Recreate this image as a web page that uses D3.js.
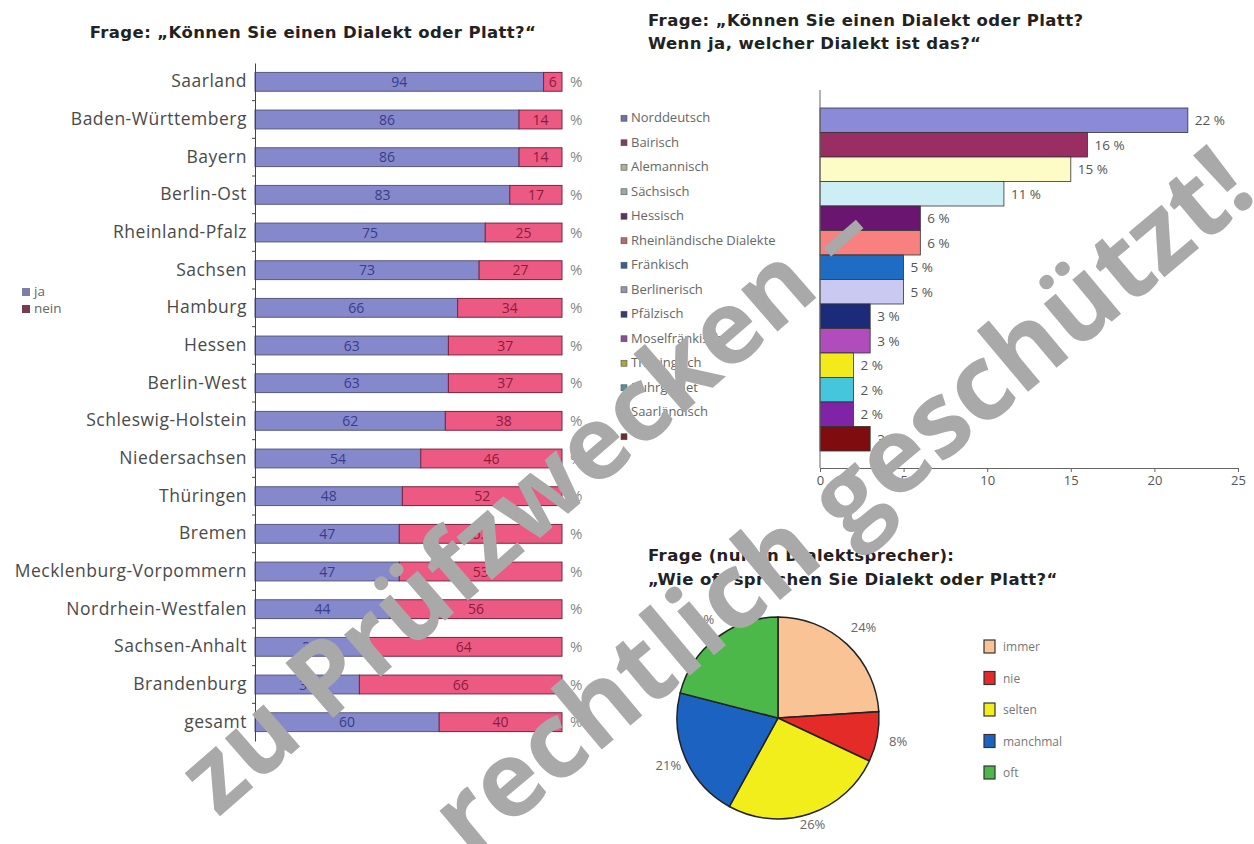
<!DOCTYPE html>
<html>
<head>
<meta charset="utf-8">
<script src="https://cdn.jsdelivr.net/npm/d3@7"></script>
<style>
  body { margin: 0; background: #fff; }
  svg { display: block; font-family: "Open Sans", "Noto Sans", sans-serif; }
  .title { font-family: "DejaVu Sans", sans-serif; font-weight: bold; font-size: 16.5px; letter-spacing: 0.4px; fill: #222; }
</style>
</head>
<body>
<svg id="chart" width="1254" height="844"></svg>
<script>
// Data
var states = ['Saarland', 'Baden-Württemberg', 'Bayern', 'Berlin-Ost', 'Rheinland-Pfalz', 'Sachsen',
  'Hamburg', 'Hessen', 'Berlin-West', 'Schleswig-Holstein', 'Niedersachsen', 'Thüringen', 'Bremen',
  'Mecklenburg-Vorpommern', 'Nordrhein-Westfalen', 'Sachsen-Anhalt', 'Brandenburg', 'gesamt'];
var jaValues   = [94, 86, 86, 83, 75, 73, 66, 63, 63, 62, 54, 48, 47, 47, 44, 36, 34, 60];
var neinValues = [6, 14, 14, 17, 25, 27, 34, 37, 37, 38, 46, 52, 53, 53, 56, 64, 66, 40];

var dialects = ['Norddeutsch', 'Bairisch', 'Alemannisch', 'Sächsisch', 'Hessisch', 'Rheinländische Dialekte',
  'Fränkisch', 'Berlinerisch', 'Pfälzisch', 'Moselfränkisch', 'Thüringisch', 'Ruhrgebiet', 'Saarländisch', ''];
var dialectValues = [22, 16, 15, 11, 6, 6, 5, 5, 3, 3, 2, 2, 2, 3];
var dialectTicks = [0, 5, 10, 15, 20, 25];

var frequency = ['immer', 'nie', 'selten', 'manchmal', 'oft'];
var frequencyValues = [24, 8, 26, 21, 21];

var svg = d3.select('#chart');

// ---------- left chart: ja / nein per Bundesland ----------
function drawStates(){
  var g = svg.append('g');

  g.append('text').attr('class', 'title')
      .attr('x', 313).attr('y', 38).attr('text-anchor', 'middle')
      .text('Frage: „Können Sie einen Dialekt oder Platt?“');

  var x = d3.scaleLinear().domain([0, 100]).range([255, 562]);
  var y = d3.scaleBand().domain(states).range([63, 741]).paddingInner(0.5).paddingOuter(0.25);

  var rows = g.selectAll('g.row')
      .data(states.map(function(s, i){ return {name: s, ja: jaValues[i], nein: neinValues[i]}; }))
      .enter().append('g').attr('class', 'row');

  rows.append('rect')
      .attr('x', x(0)).attr('y', function(d){ return y(d.name); })
      .attr('width', function(d){ return x(d.ja) - x(0); })
      .attr('height', y.bandwidth())
      .attr('fill', '#8688cc').attr('stroke', '#555a80').attr('stroke-width', 1);

  rows.append('rect')
      .attr('x', function(d){ return x(d.ja); }).attr('y', function(d){ return y(d.name); })
      .attr('width', function(d){ return x(d.ja + d.nein) - x(d.ja); })
      .attr('height', y.bandwidth())
      .attr('fill', '#ec5a84').attr('stroke', '#7a2440').attr('stroke-width', 1);

  rows.append('text')
      .attr('x', function(d){ return (x(0) + x(d.ja)) / 2; })
      .attr('y', function(d){ return y(d.name) + y.bandwidth() / 2 + 5; })
      .attr('text-anchor', 'middle').attr('font-size', 14).attr('fill', '#3a3c88')
      .text(function(d){ return d.ja; });

  rows.append('text')
      .attr('x', function(d){ return (x(d.ja) + x(100)) / 2; })
      .attr('y', function(d){ return y(d.name) + y.bandwidth() / 2 + 5; })
      .attr('text-anchor', 'middle').attr('font-size', 14).attr('fill', '#8a1c3c')
      .text(function(d){ return d.nein; });

  rows.append('text')
      .attr('x', x(100) + 8)
      .attr('y', function(d){ return y(d.name) + y.bandwidth() / 2 + 5; })
      .attr('font-size', 15).attr('fill', '#888')
      .text('%');

  var axis = d3.axisLeft(y).tickSize(0).tickPadding(8);
  var ax = g.append('g').attr('transform', 'translate(' + x(0) + ',0)').call(axis);
  ax.select('.domain').attr('stroke', '#444');
  ax.selectAll('text').attr('font-size', 17.5).attr('fill', '#4a4a4a')
      .attr('letter-spacing', 0.5)
      .attr('font-family', '"Open Sans", sans-serif');

  // small ticks between the rows
  g.selectAll('line.sep')
      .data(states.slice(0, states.length - 1))
      .enter().append('line')
      .attr('x1', x(0) - 3).attr('x2', x(0))
      .attr('y1', function(d){ return y(d) + y.step() * 0.75; })
      .attr('y2', function(d){ return y(d) + y.step() * 0.75; })
      .attr('stroke', '#444');

  var leg = g.append('g').attr('transform', 'translate(22,292)');
  [['ja', '#7d7fa8'], ['nein', '#7a3a52']].forEach(function(l, i){
    leg.append('rect').attr('x', 0).attr('y', i * 17 - 4).attr('width', 8).attr('height', 8)
        .attr('fill', l[1]);
    leg.append('text').attr('x', 12).attr('y', i * 17 + 4).attr('font-size', 13.5).attr('fill', '#666')
        .text(l[0]);
  });
}

// ---------- right chart: which dialect ----------
function drawDialects(){
  var g = svg.append('g');

  g.append('text').attr('class', 'title').attr('x', 648).attr('y', 26)
      .text('Frage: „Können Sie einen Dialekt oder Platt?');
  g.append('text').attr('class', 'title').attr('x', 648).attr('y', 49)
      .text('Wenn ja, welcher Dialekt ist das?“');

  var colors = ['#8a8ad8', '#9a2e62', '#fdfbc6', '#cdeef4', '#6a1670', '#f8807e', '#1f6cc4',
    '#c9c9f2', '#1c2a7a', '#b04cbc', '#f2ea1a', '#45c6dc', '#7f24a6', '#7f0d10'];

  var x = d3.scaleLinear().domain([0, 25]).range([820, 1238]);
  var y = d3.scaleBand().domain(d3.range(dialects.length)).range([108, 451]);

  g.selectAll('rect.bar')
      .data(dialectValues).enter().append('rect')
      .attr('x', x(0)).attr('y', function(d, i){ return y(i); })
      .attr('width', function(d){ return x(d) - x(0); })
      .attr('height', y.bandwidth())
      .attr('fill', function(d, i){ return colors[i]; })
      .attr('stroke', '#333').attr('stroke-width', 0.8);

  g.selectAll('text.val')
      .data(dialectValues).enter().append('text')
      .attr('x', function(d){ return x(d) + 7; })
      .attr('y', function(d, i){ return y(i) + y.bandwidth() / 2 + 5; })
      .attr('font-size', 13.5).attr('fill', '#555')
      .text(function(d){ return d + ' %'; });

  var xAxis = d3.axisBottom(x).tickValues(dialectTicks).tickSize(4).tickPadding(4);
  var ax = g.append('g').attr('transform', 'translate(0,468)').call(xAxis);
  ax.select('.domain').attr('stroke', '#666');
  ax.selectAll('line').attr('stroke', '#666');
  ax.selectAll('text').attr('font-size', 13).attr('fill', '#555')
      .attr('font-family', '"Open Sans", sans-serif');

  g.append('line').attr('x1', x(0)).attr('x2', x(0)).attr('y1', 90).attr('y2', 468)
      .attr('stroke', '#666');

  // legend
  var leg = g.selectAll('g.leg').data(dialects).enter().append('g')
      .attr('transform', function(d, i){ return 'translate(624,' + (y(i) + y.bandwidth() / 2 - 2) + ')'; });
  leg.append('rect').attr('x', -3).attr('y', -3).attr('width', 6).attr('height', 6)
      .attr('fill', function(d, i){ return d3.interpolateRgb(colors[i], '#555')(0.45); })
      .attr('stroke', '#555').attr('stroke-width', 0.6);
  leg.append('text').attr('x', 7).attr('y', 4).attr('font-size', 13).attr('fill', '#666')
      .text(function(d){ return d; });
}

// ---------- pie: how often ----------
function drawFrequency(){
  var g = svg.append('g');

  g.append('text').attr('class', 'title').attr('x', 648).attr('y', 561)
      .text('Frage (nur an Dialektsprecher):');
  g.append('text').attr('class', 'title').attr('x', 648).attr('y', 585)
      .text('„Wie oft sprechen Sie Dialekt oder Platt?“');

  var colors = ['#f9c396', '#e52b28', '#f2ee1c', '#1c62c0', '#4cb84a'];
  var r = 101;
  var pie = d3.pie().sort(null)(frequencyValues);
  var arc = d3.arc().innerRadius(0).outerRadius(r);

  // labels sit a little closer to the pie at the bottom
  function labelPos(d){
    var a = (d.startAngle + d.endAngle) / 2;
    var rr = r + 24 - 14 * Math.max(0, -Math.cos(a));
    return [Math.sin(a) * rr, -Math.cos(a) * rr];
  }

  var pg = g.append('g').attr('transform', 'translate(778,718)');
  pg.selectAll('path').data(pie).enter().append('path')
      .attr('d', arc)
      .attr('fill', function(d, i){ return colors[i]; })
      .attr('stroke', '#222').attr('stroke-width', 1.5);

  pg.selectAll('text').data(pie).enter().append('text')
      .attr('transform', function(d){ return 'translate(' + labelPos(d) + ')'; })
      .attr('dy', 5).attr('text-anchor', 'middle')
      .attr('font-size', 13).attr('fill', '#666')
      .text(function(d){ return d.value + '%'; });

  var leg = g.selectAll('g.pleg').data(frequency).enter().append('g')
      .attr('transform', function(d, i){ return 'translate(984,' + (647 + i * 31.5) + ')'; });
  leg.append('rect').attr('x', 0).attr('y', -7).attr('width', 11).attr('height', 13)
      .attr('fill', function(d, i){ return colors[i]; })
      .attr('stroke', '#333').attr('stroke-width', 1.2);
  leg.append('text').attr('x', 19).attr('y', 4).attr('font-size', 12).attr('fill', '#777')
      .text(function(d){ return d; });
}

// ---------- watermark on top ----------
function drawWatermark(){
  var lines = [
    {text: 'zu Prüfzwecken –', x: 218, y: 818, size: 102, angle: -41},
    {text: 'rechtlich geschützt!', x: 470, y: 860, size: 105, angle: -40}
  ];
  svg.selectAll('text.wm').data(lines).enter().append('text')
      .attr('class', 'wm')
      .attr('transform', function(d){ return 'translate(' + d.x + ',' + d.y + ') rotate(' + d.angle + ')'; })
      .attr('font-size', function(d){ return d.size; }).attr('font-weight', 'bold')
      .attr('font-family', '"Open Sans", sans-serif')
      .attr('fill', '#a9a9a9')
      .text(function(d){ return d.text; });
}

drawStates();
drawDialects();
drawFrequency();
drawWatermark();
</script>
</body>
</html>
